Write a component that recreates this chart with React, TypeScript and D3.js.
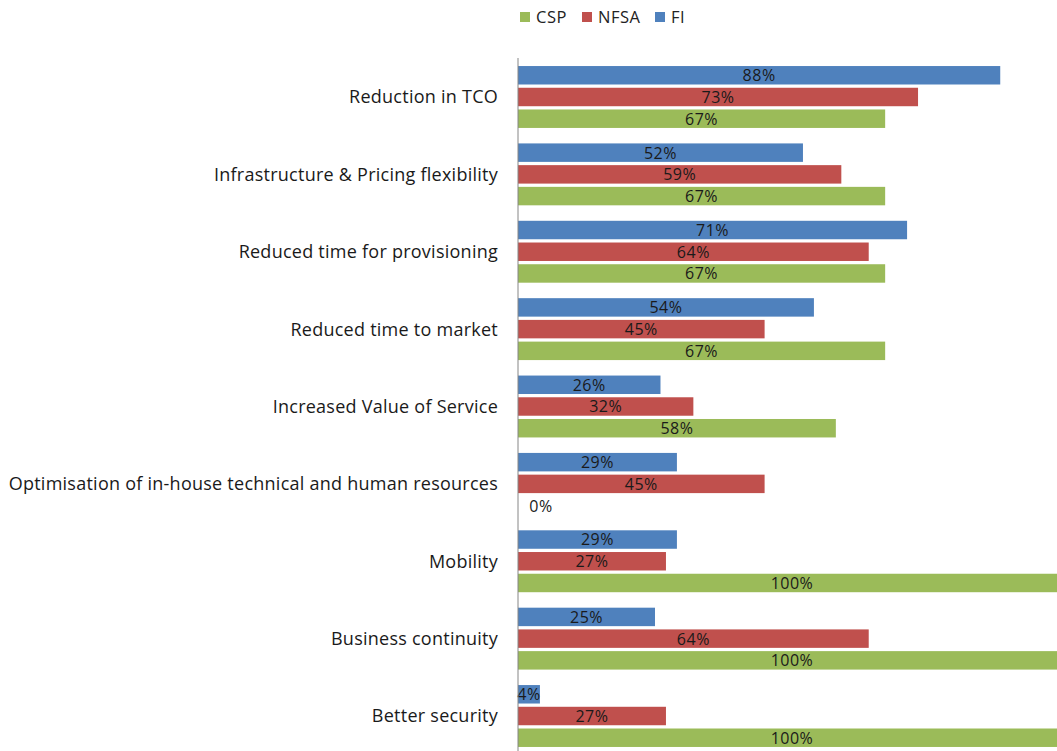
import React from "react";
import * as d3 from "d3";

const categories = [
  "Reduction in TCO",
  "Infrastructure & Pricing flexibility",
  "Reduced time for provisioning",
  "Reduced time to market",
  "Increased Value of Service",
  "Optimisation of in-house technical and human resources",
  "Mobility",
  "Business continuity",
  "Better security",
];

const seriesNames = ["FI", "NFSA", "CSP"];
const legendOrder = ["CSP", "NFSA", "FI"];

const fiValues = [0.88, 0.52, 0.71, 0.54, 0.26, 0.29, 0.29, 0.25, 0.04];
const nfsaValues = [0.73, 0.59, 0.64, 0.45, 0.32, 0.45, 0.27, 0.64, 0.27];
const cspValues = [0.67, 0.67, 0.67, 0.67, 0.58, 0, 1.0, 1.0, 1.0];

const colors: Record<string, string> = {
  CSP: "#9BBB59",
  NFSA: "#C0504D",
  FI: "#4F81BD",
};

const W = 1057;
const H = 751;
const font = "'Open Sans', 'Noto Sans', sans-serif";

export default function App() {
  const values: Record<string, number[]> = {
    FI: fiValues,
    NFSA: nfsaValues,
    CSP: cspValues,
  };

  const x = d3.scaleLinear().domain([0, 1]).range([518, 1066]);
  const y = d3
    .scaleBand<string>()
    .domain(categories)
    .range([58.3, 754.7])
    .paddingInner(0.2)
    .paddingOuter(0.1);
  const inner = d3
    .scaleBand<string>()
    .domain(seriesNames)
    .range([0, y.bandwidth()])
    .paddingInner(0.15);

  const fmt = d3.format(".0%");

  // legend positions
  const legendX = [520, 582, 655];

  return (
    <svg
      width={W}
      height={H}
      style={{ position: "absolute", left: 0, top: 0, background: "#fff" }}
      fontFamily={font}
    >
      <rect width={W} height={H} fill="#fff" />

      {/* legend */}
      {legendOrder.map((s, i) => (
        <g key={s} transform={`translate(${legendX[i]},12)`}>
          <rect width={10} height={10} fill={colors[s]} />
          <text x={16} y={11} fontSize={16.5} letterSpacing={0.5} fill="#222">
            {s}
          </text>
        </g>
      ))}

      {/* bars */}
      {categories.map((c, ci) => (
        <g key={c} transform={`translate(0,${y(c)})`}>
          {seriesNames.map((s) => {
            const v = values[s][ci];
            const by = inner(s) as number;
            const bw = x(v) - x(0);
            const lx = v === 0 ? x(0) + 23 : x(v / 2);
            return (
              <g key={s}>
                {v > 0 && (
                  <rect
                    x={x(0)}
                    y={by}
                    width={bw}
                    height={inner.bandwidth()}
                    fill={colors[s]}
                  />
                )}
                <text
                  x={lx}
                  y={by + inner.bandwidth() / 2}
                  dy="0.37em"
                  textAnchor="middle"
                  fontSize={16}
                  letterSpacing={0.5}
                  fill="#1a1a1a"
                >
                  {fmt(v)}
                </text>
              </g>
            );
          })}
          <text
            x={498}
            y={y.bandwidth() / 2}
            dy="0.36em"
            textAnchor="end"
            fontSize={18}
            letterSpacing={0.25}
            fill="#1a1a1a"
          >
            {c}
          </text>
        </g>
      ))}

      {/* axis line */}
      <line x1={x(0)} x2={x(0)} y1={58} y2={H} stroke="#868686" strokeWidth={1} />
    </svg>
  );
}
